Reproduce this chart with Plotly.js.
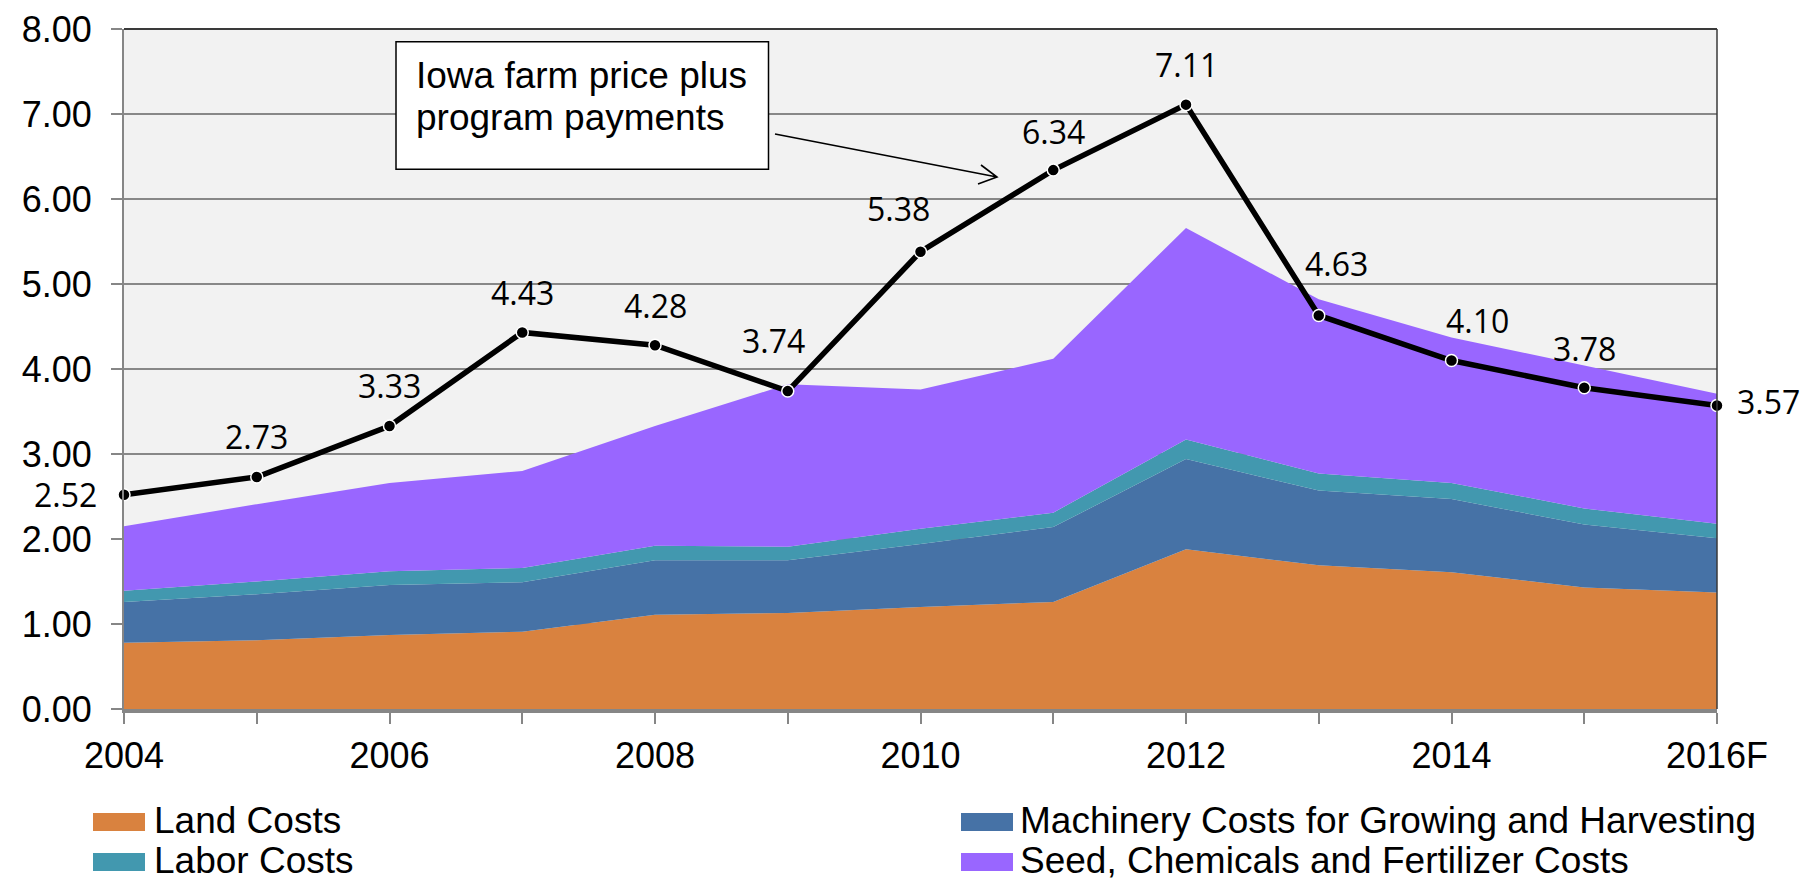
<!DOCTYPE html>
<html>
<head>
<meta charset="utf-8">
<script src="https://cdn.plot.ly/plotly-3.0.1.min.js"></script>
<style>
  html, body { margin: 0; padding: 0; background: #ffffff; }
  #chart { width: 1805px; height: 881px; }
</style>
</head>
<body>
<div id="chart"></div>
<script>
// ---------------- data ----------------
var categories = ['2004','2005','2006','2007','2008','2009','2010','2011','2012','2013','2014','2015','2016F'];
var tickLabels = ['2004','','2006','','2008','','2010','','2012','','2014','','2016F'];

var landCosts      = [0.78, 0.81, 0.87, 0.91, 1.11, 1.13, 1.20, 1.26, 1.88, 1.69, 1.61, 1.43, 1.37];
var machineryCosts = [0.48, 0.54, 0.59, 0.58, 0.64, 0.62, 0.74, 0.88, 1.06, 0.88, 0.86, 0.74, 0.64];
var laborCosts     = [0.13, 0.15, 0.16, 0.17, 0.17, 0.16, 0.18, 0.17, 0.23, 0.20, 0.19, 0.19, 0.17];
var seedCosts      = [0.76, 0.91, 1.04, 1.14, 1.41, 1.91, 1.64, 1.81, 2.49, 2.05, 1.71, 1.68, 1.53];

var farmPrice = [2.52, 2.73, 3.33, 4.43, 4.28, 3.74, 5.38, 6.34, 7.11, 4.63, 4.10, 3.78, 3.57];

var seriesNames  = ['Land Costs', 'Machinery Costs for Growing and Harvesting', 'Labor Costs', 'Seed, Chemicals and Fertilizer Costs'];
var seriesValues = [landCosts, machineryCosts, laborCosts, seedCosts];
var seriesColors = ['#D9823F', '#4672A6', '#4298AF', '#9966FF'];

var calloutLines = ['Iowa farm price plus', 'program payments'];

// label placement (pixel offsets from each point)
var labelDx = [-59, 0, 0, 0, 0, -14, -22, 0, 0, 18, 26, 0, 51];
var labelDy = [0, -40, -40, -40, -40, -51, -43, -39, -40, -52, -40, -39, -4];

// ---------------- layout geometry ----------------
var W = 1805, H = 881;
var L = 124, R = 1717, T = 29, B = 709;
function px(xp) { return (xp - L) / (R - L); }
function py(yp) { return (B - yp) / (B - T); }

var arialFont = 'Liberation Sans, Arial, Helvetica, sans-serif';
var labelFont = 'Open Sans, Noto Sans, sans-serif';

// ---------------- traces ----------------
var traces = [];
for (var s = 0; s < seriesValues.length; s++) {
  traces.push({
    type: 'scatter',
    x: categories,
    y: seriesValues[s],
    name: seriesNames[s],
    stackgroup: 'costs',
    mode: 'none',
    fill: 'tonexty',
    fillcolor: seriesColors[s],
    showlegend: false,
    hoverinfo: 'x+y+name'
  });
}
traces.push({
  type: 'scatter',
  x: categories,
  y: farmPrice,
  name: 'Iowa farm price plus program payments',
  mode: 'lines+markers',
  line: { color: '#000000', width: 5.5 },
  marker: { color: '#000000', size: 12, line: { color: '#ffffff', width: 1.5 } },
  cliponaxis: false,
  showlegend: false
});

// ---------------- annotations ----------------
var annotations = [];
for (var i = 0; i < farmPrice.length; i++) {
  annotations.push({
    x: i, y: farmPrice[i], xref: 'x', yref: 'y',
    text: farmPrice[i].toFixed(2),
    showarrow: false,
    xanchor: 'center', yanchor: 'middle',
    xshift: labelDx[i], yshift: -labelDy[i],
    font: { family: labelFont, size: 32, color: '#000000' }
  });
}

var shapes = [];
// callout box
shapes.push({
  type: 'rect', xref: 'paper', yref: 'paper',
  x0: px(396), x1: px(768.5), y0: py(169.3), y1: py(41.7),
  fillcolor: '#ffffff', line: { color: '#000000', width: 1.5 }, layer: 'above'
});
var calloutLineY = [76, 117.5];
for (var c = 0; c < calloutLines.length; c++) {
  annotations.push({
    xref: 'paper', yref: 'paper',
    x: px(414), y: py(calloutLineY[c]),
    xanchor: 'left', yanchor: 'middle',
    text: calloutLines[c], showarrow: false,
    font: { family: arialFont, size: 37, color: '#000000' }
  });
}

// custom legend (2 columns, row-major)
var legendColSwatch = [93, 961];
var legendColText = [152, 1018];
var legendRowY = [822, 862];
for (var k = 0; k < seriesNames.length; k++) {
  var col = k % 2, row = Math.floor(k / 2);
  var sx = legendColSwatch[col], sy = legendRowY[row];
  shapes.push({
    type: 'rect', xref: 'paper', yref: 'paper',
    x0: px(sx), x1: px(sx + 52), y0: py(sy - 9), y1: py(sy + 9),
    fillcolor: seriesColors[k], line: { width: 0 }
  });
  annotations.push({
    xref: 'paper', yref: 'paper',
    x: px(legendColText[col]), y: py(sy - 2),
    xanchor: 'left', yanchor: 'middle',
    text: seriesNames[k], showarrow: false,
    font: { family: arialFont, size: 37, color: '#000000' }
  });
}

// plot border (top and right)
shapes.push({ type: 'line', xref: 'paper', yref: 'paper', x0: 0, x1: 1, y0: 1, y1: 1,
  line: { color: '#3a3a3a', width: 2 }, layer: 'above' });
shapes.push({ type: 'line', xref: 'paper', yref: 'paper', x0: 1, x1: 1, y0: 0, y1: 1,
  line: { color: '#3a3a3a', width: 1.5 }, layer: 'above' });

// callout arrow (shaft + open head)
var tail = [775, 134], head = [997, 177], arm1 = [978, 184], arm2 = [981, 165];
shapes.push({
  type: 'path', xref: 'paper', yref: 'paper',
  path: 'M' + px(tail[0]) + ',' + py(tail[1]) + ' L' + px(head[0]) + ',' + py(head[1]) +
        ' M' + px(arm1[0]) + ',' + py(arm1[1]) + ' L' + px(head[0]) + ',' + py(head[1]) +
        ' L' + px(arm2[0]) + ',' + py(arm2[1]),
  line: { color: '#000000', width: 1.6 }, layer: 'above'
});

var layout = {
  width: W, height: H,
  margin: { l: L, r: W - R, t: T, b: H - B, pad: 0 },
  paper_bgcolor: '#ffffff',
  plot_bgcolor: '#F2F2F2',
  showlegend: false,
  xaxis: {
    type: 'category',
    range: [0, categories.length - 1],
    tickmode: 'array',
    tickvals: categories,
    ticktext: tickLabels,
    showgrid: false,
    zeroline: false,
    showline: true, linecolor: '#868686', linewidth: 4,
    ticks: 'outside', ticklen: 11, tickwidth: 2, tickcolor: '#868686',
    ticklabelstandoff: 1,
    tickfont: { family: arialFont, size: 36, color: '#000000' },
    fixedrange: true
  },
  yaxis: {
    range: [0, 8],
    tickmode: 'linear', tick0: 0, dtick: 1,
    tickformat: '.2f',
    showgrid: true, gridcolor: '#888888', gridwidth: 1.4,
    zeroline: false,
    showline: true, linecolor: '#868686', linewidth: 2,
    ticks: 'outside', ticklen: 11, tickwidth: 1.4, tickcolor: '#868686',
    ticklabelstandoff: 12,
    tickfont: { family: arialFont, size: 36, color: '#000000' },
    fixedrange: true
  },
  annotations: annotations,
  shapes: shapes
};

Plotly.newPlot('chart', traces, layout, { displayModeBar: false, staticPlot: true });
</script>
</body>
</html>
